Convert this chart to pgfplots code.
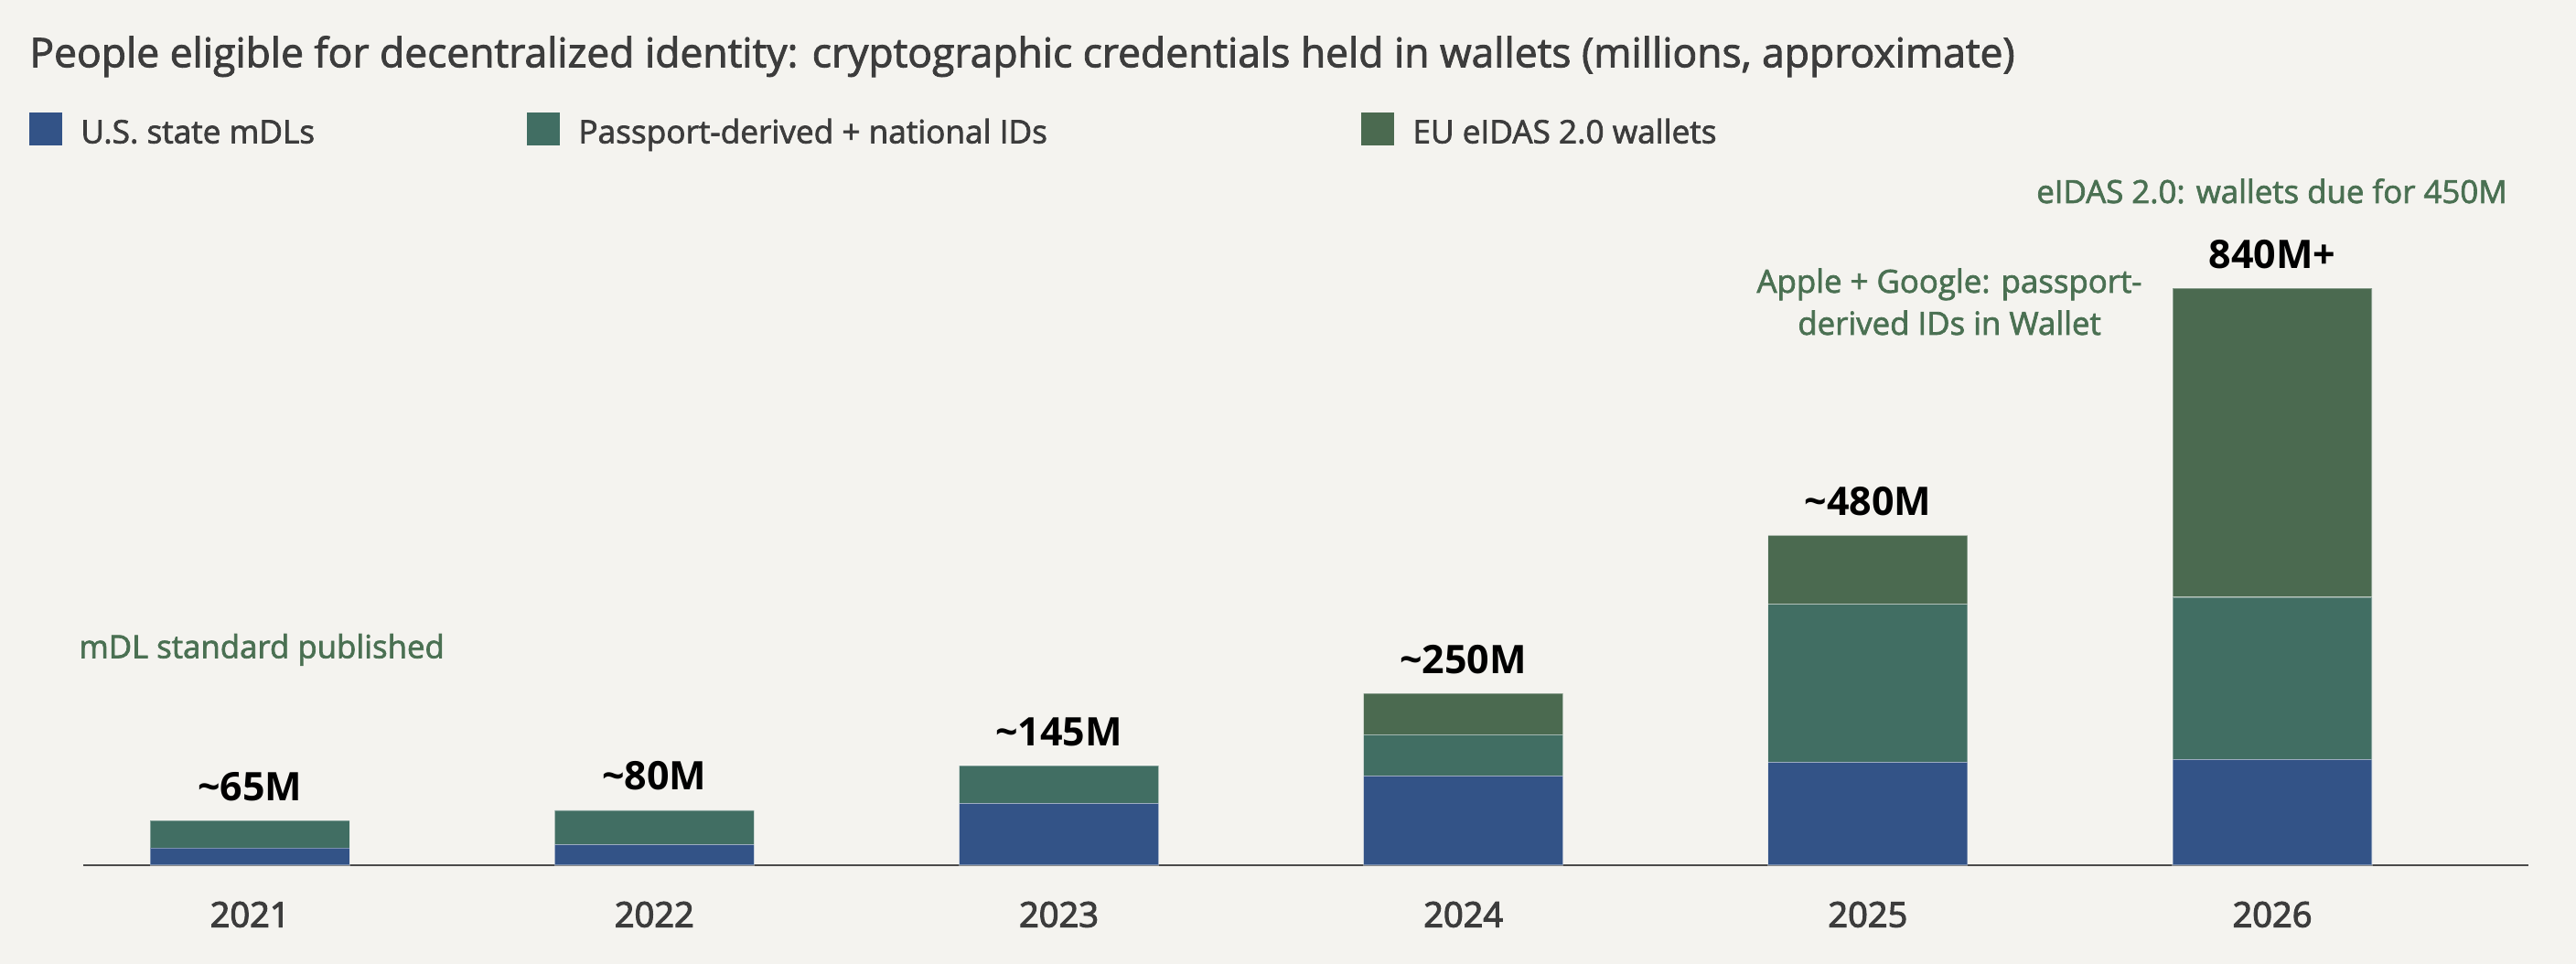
\documentclass[border=0pt]{standalone}
\usepackage{fontspec}
\setmainfont{Open Sans}
\newfontfamily\medfont{Open Sans}[FakeBold=2]
\newfontfamily\semifont{Open Sans}[FakeBold=3]
\newfontfamily\boldfont{Open Sans Bold}
\usepackage{pgfplots}
\pgfplotsset{compat=1.18}
\usepackage{pgfplotstable}
\definecolor{bg}{HTML}{F4F3EF}
\definecolor{cblue}{HTML}{335387}
\definecolor{cteal}{HTML}{416E63}
\definecolor{cgreen}{HTML}{4B6A50}
\definecolor{anno}{HTML}{4A7052}
\definecolor{ink}{HTML}{3C3C3C}
\definecolor{axisc}{HTML}{4A4A4A}

\pgfplotstableread{
x us pass eu
0 25 40 0
1 30 50 0
2 90 55 0
3 130 60 60
4 150 230 100
5 154 236 450
}\datatable

\begin{document}
\begin{tikzpicture}
\fill[bg] (0,0) rectangle (1408pt,527pt);
% title
\node[anchor=base west, inner sep=0, text=ink, font=\fontsize{22.2}{26}\selectfont\medfont] at (16pt,490.3pt)
  {People eligible for decentralized identity: cryptographic credentials held in wallets (millions, approximate)};
% legend
\tikzset{leg/.style={anchor=base west, inner sep=0, text=ink, font=\fontsize{17.6}{21}\selectfont\medfont}}
\fill[cblue] (16pt,447.6pt) rectangle (34pt,465.6pt);
\node[leg] at (44pt,448.7pt) {U.S. state mDLs};
\fill[cteal] (288pt,447.6pt) rectangle (306pt,465.6pt);
\node[leg] at (316pt,448.7pt) {Passport-derived + national IDs};
\fill[cgreen] (744pt,447.6pt) rectangle (762pt,465.6pt);
\node[leg] at (772pt,448.7pt) {EU eIDAS 2.0 wallets};

\begin{axis}[
  at={(45.5pt,54pt)}, anchor=south west,
  scale only axis, width=1336.5pt, height=338pt,
  xmin=-0.412, xmax=5.633, ymin=0, ymax=900,
  ybar stacked, bar width=109pt,
  axis x line*=bottom, axis y line=none,
  x axis line style={draw=axisc, line width=1.4pt, -},
  xtick={0,1,2,3,4,5},
  xticklabels={2021,2022,2023,2024,2025,2026},
  major tick length=0pt,
  xticklabel style={font=\fontsize{19}{22}\selectfont\semifont, text=ink, anchor=base, yshift=-33.75pt},
  clip=false,
  every axis plot/.append style={draw=white, draw opacity=0.35, line width=0.6pt},
]
\addplot[fill=cblue] table[x=x,y=us] {\datatable};
\addplot[fill=cteal] table[x=x,y=pass] {\datatable};
\addplot[fill=cgreen] table[x=x,y=eu] {\datatable};

\tikzset{vlab/.style={anchor=base, inner sep=0, yshift=11pt, text=black, font=\fontsize{21.5}{25}\selectfont\boldfont}}
\node[vlab] at (axis cs:0,65) {\textasciitilde65M};
\node[vlab] at (axis cs:1,80) {\textasciitilde80M};
\node[vlab] at (axis cs:2,145) {\textasciitilde145M};
\node[vlab] at (axis cs:3,250) {\textasciitilde250M};
\node[vlab] at (axis cs:4,480) {\textasciitilde480M};
\node[vlab] at (axis cs:5,840) {840M+};
\end{axis}

% annotations
\tikzset{ann/.style={inner sep=0, text=anno, font=\fontsize{17.4}{20}\selectfont\medfont}}
\node[ann, anchor=base west] at (43pt,167.25pt) {mDL standard published};
\node[ann, anchor=base] at (1065.5pt,367pt) {Apple + Google: passport-};
\node[ann, anchor=base] at (1065.5pt,344pt) {derived IDs in Wallet};
\node[ann, anchor=base east] at (1370.5pt,416pt) {eIDAS 2.0: wallets due for 450M};

\pgfresetboundingbox
\path[use as bounding box] (0,0) rectangle (1408pt,527pt);
\end{tikzpicture}
\end{document}
